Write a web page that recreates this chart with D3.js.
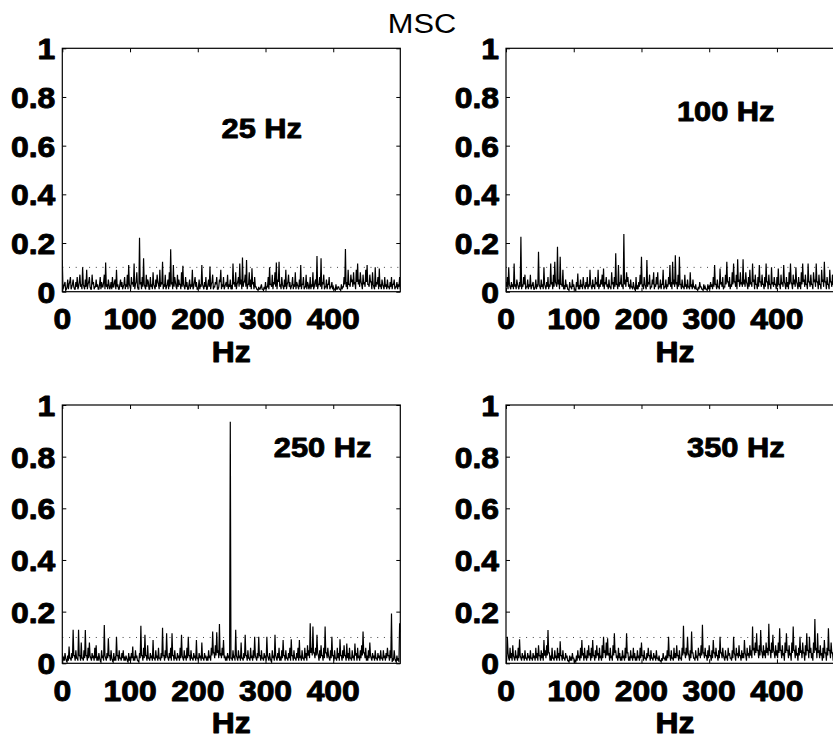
<!DOCTYPE html>
<html>
<head>
<meta charset="utf-8">
<script src="https://cdn.jsdelivr.net/npm/d3@7"></script>
<style>
  html, body { margin: 0; padding: 0; background: #fff; }
  svg { display: block; }
  text { font-family: "Liberation Sans", Arial, Helvetica, sans-serif; fill: #000; }
</style>
</head>
<body>
<svg id="chart" width="833" height="738"></svg>
<script>
// ---------------- DATA ----------------
const figureTitle = "MSC";
const panelLabels = ["25 Hz", "100 Hz", "250 Hz", "350 Hz"];
const xAxisLabel = "Hz";
const freqStepHz = 1;               // spectral resolution of the series below (0, 1, 2 ... 499 Hz)
const xTicks = [0, 100, 200, 300, 400];
const yTicks = [0, 0.2, 0.4, 0.6, 0.8, 1];
const yTickLabels = ["0", "0.2", "0.4", "0.6", "0.8", "1"];
const threshold = 0.1;              // dotted significance level

const msc25 = [
  0.13,0.01,0.02,0.03,0.04,0.005,0.01,0.02,0.05,0.01,0.03,0.04,0.06,0.01,0.02,0.03,0.05,0.02,0.01,0.01,0.04,0.02,0.06,0.01,0.02,0.04,0.07,0.02,0.03,0.01,0.10,0.03,0.02,0.01,0.05,0.02,0.09,0.01,0.03,0.04,0.06,0.02,0.01,0.01,0.07,0.03,0.04,0.01,0.02,0.02,
  0.05,0.02,0.03,0.01,0.01,0.03,0.06,0.01,0.04,0.02,0.02,0.04,0.07,0.01,0.12,0.02,0.03,0.01,0.05,0.03,0.01,0.02,0.04,0.01,0.06,0.02,0.02,0.04,0.05,0.01,0.09,0.02,0.03,0.01,0.01,0.03,0.05,0.02,0.04,0.01,0.02,0.03,0.06,0.01,0.03,0.02,0.07,0.01,0.11,0.03,
  0.02,0.01,0.06,0.03,0.04,0.02,0.116,0.01,0.03,0.04,0.08,0.02,0.01,0.01,0.222,0.03,0.04,0.01,0.06,0.02,0.137,0.03,0.02,0.01,0.07,0.02,0.05,0.04,0.01,0.01,0.06,0.02,0.03,0.01,0.08,0.03,0.02,0.01,0.05,0.02,0.07,0.04,0.03,0.01,0.09,0.02,0.04,0.03,0.123,0.01,
  0.03,0.02,0.07,0.01,0.02,0.03,0.05,0.01,0.08,0.02,0.174,0.03,0.04,0.01,0.11,0.02,0.06,0.04,0.02,0.01,0.07,0.02,0.05,0.03,0.03,0.01,0.08,0.02,0.107,0.03,0.02,0.01,0.06,0.02,0.04,0.01,0.01,0.03,0.05,0.01,0.03,0.02,0.09,0.01,0.02,0.04,0.06,0.02,0.04,0.01,
  0.01,0.02,0.05,0.01,0.03,0.02,0.11,0.03,0.02,0.01,0.04,0.02,0.06,0.01,0.01,0.03,0.05,0.02,0.103,0.01,0.03,0.04,0.07,0.01,0.02,0.02,0.04,0.03,0.06,0.01,0.01,0.02,0.05,0.04,0.09,0.01,0.03,0.02,0.06,0.01,0.02,0.03,0.04,0.02,0.07,0.01,0.03,0.02,0.05,0.01,
  0.02,0.01,0.116,0.03,0.04,0.02,0.08,0.01,0.03,0.04,0.06,0.02,0.116,0.03,0.05,0.01,0.14,0.02,0.04,0.04,0.07,0.02,0.13,0.01,0.03,0.03,0.08,0.02,0.05,0.01,0.096,0.03,0.04,0.01,0.06,0.02,0.02,0.01,0.01,0.005,0.02,0.01,0.01,0.02,0.03,0.01,0.01,0.005,0.02,0.01,
  0.04,0.01,0.02,0.02,0.06,0.01,0.10,0.03,0.03,0.02,0.07,0.01,0.04,0.03,0.08,0.02,0.12,0.01,0.05,0.04,0.123,0.02,0.03,0.01,0.06,0.03,0.02,0.01,0.05,0.02,0.09,0.01,0.03,0.04,0.07,0.02,0.04,0.01,0.02,0.03,0.06,0.01,0.03,0.02,0.08,0.01,0.04,0.03,0.02,0.01,
  0.05,0.02,0.11,0.01,0.03,0.03,0.06,0.01,0.02,0.02,0.07,0.01,0.04,0.03,0.01,0.02,0.06,0.01,0.03,0.02,0.08,0.01,0.02,0.04,0.05,0.02,0.147,0.01,0.03,0.03,0.06,0.02,0.137,0.01,0.04,0.03,0.07,0.01,0.02,0.02,0.05,0.01,0.03,0.03,0.06,0.01,0.02,0.02,0.04,0.01,
  0.02,0.01,0.01,0.005,0.03,0.01,0.01,0.02,0.02,0.01,0.01,0.005,0.03,0.01,0.02,0.02,0.06,0.03,0.175,0.02,0.04,0.01,0.09,0.03,0.03,0.02,0.07,0.04,0.05,0.02,0.08,0.03,0.04,0.01,0.09,0.04,0.116,0.03,0.05,0.02,0.08,0.04,0.03,0.01,0.07,0.03,0.04,0.02,0.09,0.04,
  0.11,0.03,0.03,0.02,0.07,0.04,0.04,0.01,0.08,0.03,0.02,0.01,0.10,0.02,0.04,0.03,0.06,0.01,0.095,0.02,0.03,0.01,0.05,0.03,0.02,0.01,0.06,0.02,0.03,0.01,0.05,0.02,0.02,0.01,0.04,0.02,0.06,0.01,0.03,0.03,0.05,0.01,0.02,0.02,0.04,0.01,0.03,0.02,0.06,0.01
];
const msc100 = [
  0.04,0.02,0.06,0.01,0.10,0.03,0.02,0.01,0.04,0.02,0.03,0.01,0.116,0.02,0.03,0.01,0.05,0.03,0.02,0.01,0.04,0.02,0.226,0.01,0.03,0.02,0.06,0.03,0.07,0.01,0.02,0.02,0.05,0.01,0.03,0.02,0.07,0.01,0.02,0.03,0.04,0.01,0.01,0.02,0.05,0.01,0.03,0.02,0.164,0.03,
  0.02,0.01,0.05,0.02,0.03,0.01,0.10,0.03,0.02,0.01,0.04,0.02,0.06,0.01,0.03,0.02,0.116,0.03,0.04,0.01,0.07,0.02,0.123,0.04,0.03,0.02,0.185,0.03,0.05,0.01,0.144,0.03,0.03,0.02,0.09,0.01,0.02,0.01,0.05,0.02,0.03,0.01,0.01,0.005,0.04,0.02,0.02,0.01,0.05,0.02,
  0.03,0.01,0.01,0.005,0.04,0.02,0.075,0.01,0.02,0.01,0.05,0.02,0.03,0.01,0.06,0.03,0.02,0.01,0.04,0.02,0.06,0.01,0.03,0.02,0.09,0.03,0.02,0.01,0.05,0.02,0.03,0.01,0.06,0.03,0.04,0.02,0.09,0.01,0.03,0.02,0.05,0.03,0.07,0.02,0.095,0.01,0.04,0.03,0.06,0.02,
  0.03,0.01,0.05,0.02,0.02,0.01,0.08,0.03,0.04,0.01,0.06,0.02,0.158,0.03,0.03,0.01,0.11,0.02,0.04,0.03,0.07,0.02,0.03,0.01,0.237,0.03,0.05,0.02,0.08,0.04,0.06,0.02,0.03,0.01,0.05,0.02,0.02,0.01,0.04,0.02,0.01,0.005,0.06,0.01,0.02,0.01,0.04,0.02,0.07,0.03,
  0.144,0.02,0.03,0.01,0.06,0.03,0.02,0.01,0.13,0.02,0.04,0.03,0.07,0.01,0.02,0.02,0.05,0.03,0.08,0.01,0.03,0.02,0.06,0.03,0.08,0.01,0.02,0.02,0.05,0.01,0.03,0.03,0.09,0.01,0.02,0.02,0.05,0.01,0.03,0.02,0.06,0.03,0.11,0.02,0.04,0.01,0.123,0.03,0.05,0.02,
  0.15,0.03,0.04,0.01,0.07,0.02,0.144,0.03,0.03,0.01,0.05,0.02,0.02,0.01,0.07,0.02,0.03,0.01,0.05,0.02,0.02,0.01,0.08,0.02,0.03,0.01,0.05,0.02,0.02,0.01,0.03,0.01,0.01,0.005,0.02,0.01,0.04,0.02,0.02,0.01,0.01,0.005,0.03,0.01,0.02,0.01,0.01,0.005,0.03,0.01,
  0.02,0.01,0.04,0.02,0.03,0.01,0.06,0.02,0.11,0.03,0.03,0.01,0.05,0.02,0.02,0.01,0.095,0.03,0.04,0.02,0.06,0.01,0.02,0.02,0.07,0.03,0.123,0.04,0.04,0.02,0.06,0.01,0.03,0.02,0.08,0.03,0.116,0.04,0.04,0.02,0.07,0.01,0.133,0.04,0.05,0.02,0.08,0.03,0.04,0.02,
  0.133,0.03,0.05,0.02,0.08,0.04,0.03,0.01,0.06,0.02,0.09,0.03,0.04,0.02,0.116,0.04,0.05,0.01,0.07,0.03,0.03,0.01,0.06,0.02,0.11,0.04,0.04,0.02,0.07,0.03,0.03,0.01,0.06,0.02,0.116,0.04,0.04,0.01,0.07,0.03,0.03,0.01,0.10,0.03,0.04,0.02,0.06,0.03,0.03,0.01,
  0.06,0.02,0.095,0.03,0.03,0.01,0.07,0.03,0.04,0.02,0.11,0.04,0.03,0.01,0.06,0.02,0.04,0.01,0.08,0.03,0.116,0.04,0.03,0.01,0.07,0.03,0.05,0.02,0.10,0.04,0.03,0.01,0.06,0.02,0.04,0.01,0.08,0.03,0.116,0.04,0.05,0.02,0.07,0.03,0.03,0.01,0.116,0.04,0.04,0.02,
  0.07,0.03,0.03,0.01,0.08,0.04,0.05,0.02,0.116,0.04,0.04,0.01,0.07,0.03,0.03,0.01,0.09,0.04,0.05,0.02,0.123,0.04,0.04,0.01,0.06,0.03,0.03,0.01,0.09,0.04,0.04,0.02,0.07,0.03,0.03,0.01,0.06,0.02,0.04,0.01,0.08,0.03,0.03,0.01,0.06,0.02,0.04,0.01,0.07,0.03
];
const msc250 = [
  0.04,0.01,0.02,0.01,0.04,0.02,0.01,0.005,0.03,0.01,0.065,0.02,0.02,0.01,0.04,0.02,0.13,0.03,0.03,0.01,0.05,0.02,0.02,0.01,0.13,0.03,0.03,0.01,0.08,0.02,0.02,0.01,0.05,0.02,0.129,0.03,0.03,0.01,0.06,0.02,0.08,0.03,0.02,0.01,0.04,0.02,0.03,0.01,0.06,0.02,
  0.07,0.01,0.02,0.01,0.04,0.02,0.01,0.005,0.05,0.02,0.03,0.01,0.148,0.03,0.02,0.01,0.04,0.02,0.097,0.03,0.03,0.01,0.05,0.02,0.01,0.005,0.04,0.01,0.02,0.01,0.103,0.03,0.03,0.01,0.05,0.02,0.02,0.01,0.04,0.02,0.05,0.01,0.02,0.01,0.03,0.02,0.01,0.005,0.04,0.01,
  0.02,0.01,0.04,0.02,0.065,0.01,0.02,0.01,0.05,0.02,0.03,0.01,0.01,0.005,0.04,0.02,0.145,0.03,0.03,0.01,0.06,0.02,0.11,0.03,0.03,0.01,0.07,0.02,0.02,0.01,0.04,0.02,0.03,0.01,0.09,0.02,0.02,0.01,0.05,0.02,0.03,0.01,0.06,0.02,0.02,0.01,0.04,0.02,0.138,0.03,
  0.03,0.01,0.05,0.02,0.116,0.03,0.02,0.01,0.04,0.02,0.06,0.01,0.116,0.03,0.03,0.01,0.05,0.02,0.02,0.01,0.04,0.02,0.03,0.01,0.06,0.02,0.11,0.03,0.02,0.01,0.05,0.02,0.03,0.01,0.06,0.02,0.103,0.03,0.03,0.01,0.05,0.02,0.02,0.01,0.04,0.02,0.03,0.01,0.09,0.02,
  0.02,0.01,0.04,0.02,0.03,0.01,0.08,0.02,0.02,0.01,0.04,0.02,0.03,0.01,0.02,0.01,0.05,0.02,0.03,0.01,0.06,0.03,0.123,0.04,0.04,0.02,0.07,0.03,0.12,0.04,0.05,0.02,0.152,0.03,0.04,0.02,0.06,0.03,0.09,0.02,0.03,0.01,0.02,0.01,0.04,0.02,0.03,0.01,0.935,0.02,
  0.02,0.01,0.05,0.02,0.03,0.01,0.13,0.03,0.02,0.01,0.05,0.02,0.03,0.01,0.08,0.02,0.02,0.01,0.04,0.02,0.11,0.03,0.03,0.01,0.05,0.02,0.02,0.01,0.06,0.02,0.03,0.01,0.05,0.02,0.103,0.03,0.02,0.01,0.04,0.02,0.103,0.03,0.03,0.01,0.05,0.02,0.02,0.01,0.04,0.02,
  0.03,0.01,0.103,0.03,0.02,0.01,0.04,0.02,0.01,0.005,0.05,0.02,0.03,0.01,0.11,0.03,0.02,0.01,0.04,0.02,0.06,0.01,0.02,0.01,0.05,0.02,0.09,0.03,0.03,0.01,0.05,0.02,0.02,0.01,0.04,0.02,0.06,0.01,0.093,0.03,0.03,0.01,0.05,0.02,0.02,0.01,0.04,0.02,0.06,0.01,
  0.09,0.02,0.03,0.01,0.05,0.02,0.02,0.01,0.06,0.02,0.04,0.01,0.07,0.03,0.05,0.02,0.155,0.04,0.06,0.03,0.142,0.04,0.04,0.02,0.06,0.03,0.11,0.04,0.03,0.01,0.05,0.02,0.07,0.03,0.03,0.01,0.06,0.02,0.142,0.04,0.04,0.02,0.06,0.03,0.02,0.01,0.05,0.02,0.103,0.03,
  0.03,0.01,0.05,0.02,0.02,0.01,0.06,0.02,0.04,0.01,0.093,0.03,0.03,0.01,0.05,0.02,0.07,0.03,0.03,0.01,0.077,0.02,0.04,0.01,0.06,0.02,0.02,0.01,0.05,0.02,0.03,0.01,0.077,0.03,0.04,0.01,0.06,0.02,0.03,0.01,0.05,0.02,0.07,0.03,0.123,0.04,0.04,0.02,0.06,0.01,
  0.03,0.01,0.05,0.02,0.08,0.03,0.02,0.01,0.04,0.02,0.03,0.01,0.05,0.02,0.02,0.01,0.04,0.02,0.03,0.01,0.05,0.02,0.02,0.01,0.05,0.02,0.03,0.01,0.04,0.02,0.06,0.03,0.03,0.01,0.05,0.02,0.193,0.005,0.02,0.01,0.05,0.02,0.01,0.005,0.03,0.01,0.02,0.005,0.155,0.12
];
const msc350 = [
  0.03,0.01,0.103,0.04,0.02,0.01,0.06,0.02,0.04,0.01,0.07,0.03,0.02,0.01,0.05,0.02,0.03,0.01,0.06,0.02,0.093,0.03,0.02,0.01,0.04,0.02,0.03,0.01,0.05,0.02,0.02,0.01,0.04,0.02,0.03,0.01,0.05,0.02,0.02,0.01,0.04,0.02,0.03,0.01,0.06,0.02,0.04,0.01,0.07,0.03,
  0.03,0.01,0.05,0.02,0.04,0.01,0.09,0.03,0.05,0.02,0.07,0.03,0.129,0.04,0.04,0.01,0.03,0.01,0.06,0.02,0.02,0.01,0.05,0.02,0.03,0.01,0.06,0.02,0.04,0.01,0.085,0.03,0.03,0.01,0.05,0.02,0.02,0.01,0.04,0.02,0.03,0.01,0.01,0.005,0.03,0.01,0.02,0.01,0.04,0.02,
  0.02,0.005,0.01,0.005,0.03,0.01,0.05,0.02,0.03,0.01,0.06,0.02,0.09,0.03,0.04,0.01,0.06,0.02,0.03,0.01,0.05,0.02,0.07,0.03,0.04,0.01,0.06,0.02,0.09,0.03,0.03,0.01,0.05,0.02,0.07,0.03,0.04,0.01,0.06,0.02,0.03,0.01,0.07,0.02,0.103,0.04,0.05,0.02,0.08,0.03,
  0.097,0.03,0.04,0.01,0.06,0.02,0.03,0.01,0.07,0.03,0.116,0.04,0.05,0.02,0.03,0.01,0.06,0.02,0.04,0.01,0.02,0.01,0.05,0.02,0.03,0.01,0.06,0.02,0.116,0.04,0.04,0.01,0.02,0.01,0.05,0.02,0.03,0.01,0.06,0.02,0.04,0.01,0.02,0.01,0.05,0.02,0.03,0.01,0.06,0.02,
  0.08,0.03,0.03,0.01,0.05,0.02,0.02,0.01,0.04,0.02,0.06,0.03,0.03,0.01,0.05,0.02,0.02,0.01,0.04,0.02,0.03,0.01,0.05,0.02,0.02,0.01,0.03,0.01,0.01,0.005,0.02,0.01,0.04,0.02,0.02,0.01,0.03,0.01,0.05,0.02,0.103,0.03,0.03,0.01,0.05,0.02,0.02,0.01,0.06,0.02,
  0.04,0.02,0.07,0.03,0.03,0.01,0.05,0.02,0.02,0.01,0.06,0.03,0.145,0.04,0.04,0.02,0.06,0.03,0.103,0.04,0.03,0.01,0.05,0.02,0.123,0.04,0.04,0.02,0.02,0.01,0.05,0.02,0.03,0.01,0.06,0.03,0.04,0.02,0.07,0.03,0.149,0.04,0.04,0.02,0.06,0.03,0.03,0.01,0.05,0.02,
  0.07,0.03,0.03,0.01,0.05,0.02,0.09,0.04,0.04,0.02,0.06,0.03,0.03,0.01,0.05,0.02,0.103,0.04,0.04,0.02,0.06,0.03,0.02,0.01,0.05,0.02,0.03,0.01,0.06,0.03,0.04,0.02,0.02,0.01,0.05,0.02,0.103,0.04,0.03,0.01,0.06,0.03,0.04,0.02,0.07,0.03,0.03,0.01,0.05,0.02,
  0.04,0.02,0.09,0.04,0.03,0.01,0.06,0.03,0.04,0.02,0.07,0.03,0.05,0.02,0.142,0.05,0.06,0.03,0.08,0.04,0.116,0.05,0.05,0.02,0.07,0.03,0.129,0.05,0.04,0.02,0.07,0.03,0.05,0.02,0.08,0.04,0.06,0.03,0.153,0.05,0.05,0.02,0.08,0.04,0.11,0.05,0.04,0.02,0.07,0.03,
  0.05,0.02,0.08,0.04,0.136,0.05,0.05,0.02,0.07,0.03,0.04,0.01,0.08,0.04,0.116,0.05,0.05,0.02,0.07,0.03,0.04,0.01,0.08,0.04,0.142,0.05,0.05,0.02,0.07,0.03,0.04,0.01,0.06,0.03,0.103,0.04,0.05,0.02,0.08,0.04,0.04,0.01,0.07,0.03,0.116,0.05,0.05,0.02,0.103,0.04,
  0.06,0.02,0.04,0.01,0.08,0.04,0.171,0.05,0.06,0.02,0.116,0.04,0.05,0.02,0.07,0.03,0.04,0.01,0.06,0.02,0.09,0.04,0.04,0.01,0.06,0.03,0.136,0.05,0.05,0.02,0.08,0.04,0.04,0.01,0.07,0.03,0.05,0.02,0.09,0.04,0.04,0.01,0.07,0.03,0.05,0.02,0.08,0.04,0.06,0.02
];
const seriesList = [msc25, msc100, msc250, msc350];

// ---------------- LAYOUT ----------------
const panels = [
  { left: 62.3, top: 48.3, width: 338, height: 243.4 },
  { left: 506,  top: 48.3, width: 338, height: 243.4 },
  { left: 62.3, top: 405,  width: 338, height: 258.3 },
  { left: 506,  top: 405,  width: 338, height: 258.3 }
];
const labelPos = [ // in-panel label anchor (fractions of the axes)
  { fx: 0.59, fy: 0.63 },
  { fx: 0.65, fy: 0.70 },
  { fx: 0.77, fy: 0.80 },
  { fx: 0.68, fy: 0.80 }
];

const svg = d3.select("#chart");
const tickFont = 29;
const tickLen = 4;
const stretch = 1.1;   // horizontal text stretch to match the reference glyph widths

function addText(parent, x, y, str, size, weight, anchor) {
  const t = parent.append("text")
    .attr("transform", `translate(${x},${y}) scale(${stretch},1)`)
    .attr("text-anchor", anchor || "middle")
    .style("font-size", size + "px")
    .style("font-weight", weight || "normal")
    .text(str);
  if (weight === "bold") {
    t.attr("stroke", "#000").attr("stroke-width", 0.9).attr("stroke-linejoin", "round");
  }
  return t;
}

addText(svg, 422, 33, figureTitle, 28, "normal", "middle");

panels.forEach((p, k) => {
  const data = seriesList[k];
  const x = d3.scaleLinear().domain([0, 499]).range([0, p.width]);
  const y = d3.scaleLinear().domain([0, 1]).range([p.height, 0]);
  const g = svg.append("g").attr("transform", `translate(${p.left},${p.top})`);

  const clipId = "clip" + k;
  g.append("clipPath").attr("id", clipId)
    .append("rect").attr("x", 0).attr("y", -2).attr("width", p.width).attr("height", p.height + 2);

  // threshold (dotted)
  g.append("line")
    .attr("x1", x(0)).attr("x2", x(499))
    .attr("y1", y(threshold)).attr("y2", y(threshold))
    .attr("stroke", "#444").attr("stroke-width", 1)
    .attr("stroke-dasharray", "1,5.7");

  // series
  const line = d3.line()
    .x((d, i) => x(i * freqStepHz))
    .y(d => y(d));
  g.append("path")
    .datum(data)
    .attr("clip-path", `url(#${clipId})`)
    .attr("fill", "none")
    .attr("stroke", "#000")
    .attr("stroke-width", 1.2)
    .attr("stroke-linejoin", "miter")
    .attr("d", line);

  // box
  g.append("rect")
    .attr("x", 0).attr("y", 0).attr("width", p.width).attr("height", p.height)
    .attr("fill", "none").attr("stroke", "#000").attr("stroke-width", 1.2);

  // inward ticks via d3 axes
  const axB = g.append("g").attr("transform", `translate(0,${p.height})`)
    .call(d3.axisBottom(x).tickValues(xTicks).tickSizeInner(-tickLen).tickSizeOuter(0).tickFormat(""));
  const axT = g.append("g")
    .call(d3.axisTop(x).tickValues(xTicks).tickSizeInner(-tickLen).tickSizeOuter(0).tickFormat(""));
  const axL = g.append("g")
    .call(d3.axisLeft(y).tickValues(yTicks).tickSizeInner(-tickLen).tickSizeOuter(0).tickFormat(""));
  const axR = g.append("g").attr("transform", `translate(${p.width},0)`)
    .call(d3.axisRight(y).tickValues(yTicks).tickSizeInner(-tickLen).tickSizeOuter(0).tickFormat(""));
  [axB, axT, axL, axR].forEach(a => {
    a.select(".domain").remove();
    a.selectAll("line").attr("stroke", "#000").attr("stroke-width", 1);
  });

  // x tick labels
  xTicks.forEach(t => addText(g, x(t), p.height + 37.5, String(t), tickFont, "bold", "middle"));
  // y tick labels
  yTicks.forEach((t, i) => addText(g, -7, y(t) + 11, yTickLabels[i], tickFont, "bold", "end"));
  // x label
  addText(g, p.width / 2, p.height + 70, xAxisLabel, tickFont, "bold", "middle");
  // panel label
  addText(g, labelPos[k].fx * p.width, (1 - labelPos[k].fy) * p.height, panelLabels[k], 28, "bold", "middle");
});
</script>
</body>
</html>
